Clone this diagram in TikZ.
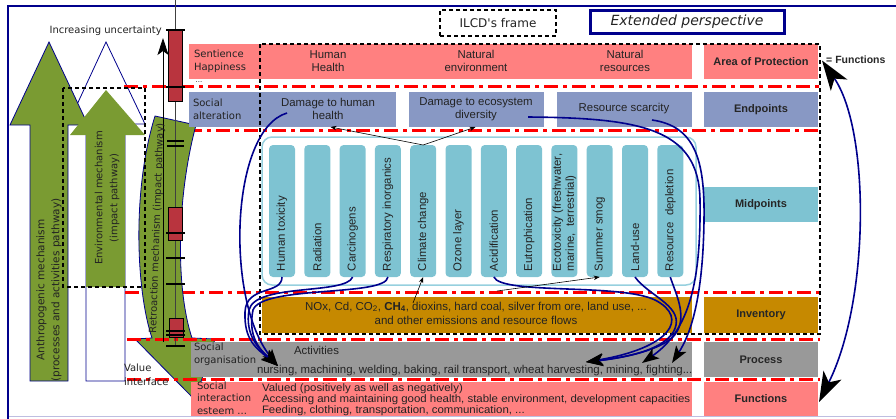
\documentclass[tikz,border=0pt]{standalone}
\usepackage{fontspec}
\setmainfont{Liberation Sans}
\newfontfamily\dv{DejaVu Sans}
\newfontfamily\widesans[FakeStretch=1.06]{Liberation Sans}
\usetikzlibrary{arrows.meta}
\definecolor{pinkc}{RGB}{255,128,128}
\definecolor{bluec}{RGB}{136,152,196}
\definecolor{tealc}{RGB}{126,195,210}
\definecolor{tealb}{RGB}{150,208,222}
\definecolor{goldc}{RGB}{198,137,0}
\definecolor{greyc}{RGB}{153,153,153}
\definecolor{greenc}{RGB}{122,155,50}
\definecolor{navyc}{RGB}{0,0,140}
\definecolor{barred}{RGB}{185,52,62}
\definecolor{txt}{RGB}{35,35,35}
\definecolor{lav}{RGB}{190,190,225}
\begin{document}
\begin{tikzpicture}[x=1pt,y=-1pt,
  rbox/.style={anchor=north west, inner sep=0pt, outer sep=0pt},
  tx/.style={inner sep=0pt, outer sep=0pt, align=center, text=txt, font=\fontsize{11.4}{13}\selectfont},
  dvt/.style={inner sep=0pt, outer sep=0pt, align=left, text=txt, font=\dv\fontsize{10}{13}\selectfont},
  lbl/.style={rbox, align=center, text=black!85, font=\bfseries\fontsize{11}{13}\selectfont},
  rdl/.style={red, line width=3pt, dash pattern=on 14pt off 5pt on 4pt off 5pt},
  nv/.style={navyc, line width=1.6pt},
  hd/.style={-{Stealth[length=17pt,width=12pt,inset=4pt,color=black]}},
  thinar/.style={black, line width=0.6pt, -{Stealth[length=6pt,width=4.5pt]}},
  capln/.style={black, line width=1.6pt},
  ilcd/.style={black, line width=1.8pt, dash pattern=on 4pt off 3pt},
  grarrow/.style={draw=navyc, line width=0.8pt, fill=greenc},
]
\useasboundingbox (0,0) rectangle (896,418);

% outer frame
\draw[lav, line width=1.2pt] (8,416.5) -- (900,416.5);
\draw[navyc, line width=2.5pt] (8,420) -- (8,6) -- (900,6);

% left arrows
\draw[draw=navyc, line width=0.8pt, fill=white] (86,381) -- (86,124) -- (68,124) -- (106,42) -- (145,124) -- (125,124) -- (125,381) -- cycle;
\draw[grarrow] (30,381) -- (30,125) -- (10,125) -- (49,42) -- (88,125) -- (68,125) -- (68,381) -- cycle;
\fill[greenc] (86,287) -- (86,135) -- (70,135) -- (106,90) -- (145,135) -- (125,135) -- (125,287) -- cycle;

% red lines under the retroaction arrow
\draw[rdl] (124,86) -- (820,86);
\draw[rdl] (188,130) -- (820,130);
\draw[rdl] (125,292) -- (820,292);

% retroaction arrow
\draw[grarrow] (155,116) -- (196,125) .. controls (176,200) and (176,290) .. (192,338) -- (215,339) -- (195,400) -- (135,339) -- (152,338) .. controls (136,290) and (132,190) .. (155,116) -- cycle;

% environmental dashed frame
\draw[ilcd] (63,88) rectangle (145,287);

% rows
\node[rbox, fill=pinkc, minimum width=71, minimum height=35] (sent) at (189,44) {};
\node[rbox, fill=pinkc, minimum width=433, minimum height=35] (aop) at (259,44) {};
\node[lbl, fill=pinkc, minimum width=114, minimum height=35] (aopL) at (704,44) {Area of Protection};

\node[rbox, fill=bluec, minimum width=71, minimum height=35] (salt) at (189,92) {};
\node[rbox, fill=bluec, minimum width=137, minimum height=35] (dhhb) at (259,92) {};
\node[rbox, fill=bluec, minimum width=135, minimum height=35] (dedb) at (409,92) {};
\node[rbox, fill=bluec, minimum width=135, minimum height=35] (rsb) at (557,92) {};
\node[lbl, fill=bluec, minimum width=114, minimum height=35] (endL) at (704,92) {Endpoints};

\node[rbox, draw=tealb, line width=1.5pt, rounded corners=10pt, minimum width=434, minimum height=148] (mpframe) at (262,137) {};
\foreach \i/\lab in {1/Human toxicity, 2/Radiation, 3/Carcinogens, 4/Respiratory inorganics, 5/Climate change, 6/Ozone layer, 7/Acidification, 8/Eutrophication, 9/{Ecotoxicity (freshwater,\\marine,\ \ terrestrial)}, 10/Summer smog, 11/Land-use, 12/{Resource\ \ depletion}} {
  \pgfmathsetmacro\cx{282+35.3*(\i-1)}
  \node[rbox, fill=tealc, rounded corners=4pt, minimum width=26, minimum height=132] (mp\i) at (\cx-13,145) {};
  \node[tx, rotate=90, anchor=west, align=left] (mt\i) at (\cx,271) {\lab};
}
\node[lbl, fill=tealc, minimum width=114, minimum height=35] (midL) at (704,187) {Midpoints};

\node[rbox, fill=goldc, minimum width=430, minimum height=36] (inv) at (262,297) {};
\node[lbl, fill=goldc, minimum width=114, minimum height=36] (invL) at (704,297) {Inventory};

\node[rbox, fill=greyc, minimum width=501, minimum height=35] (proc) at (191,342) {};
\node[lbl, fill=greyc, minimum width=114, minimum height=35] (procL) at (704,342) {Process};

\node[rbox, fill=pinkc, minimum width=501, minimum height=34] (fun) at (191,382) {};
\node[lbl, fill=pinkc, minimum width=114, minimum height=34] (funL) at (704,382) {Functions};

% red lines over the arrow
\draw[rdl] (127,339) -- (820,339);
\draw[rdl] (127,379) -- (820,379);

% uncertainty bar
\draw[black!75, line width=0.7pt] (175,0) -- (175,346);
\draw[black, line width=0.6pt, fill=barred] (168.5,30) rectangle (182.5,101);
\draw[capln] (166,30) -- (185,30);
\draw[capln] (166,87) -- (185,87);
\draw[capln] (167,141) -- (184,141);
\draw[capln] (167,146) -- (184,146);
\draw[black, line width=0.6pt, fill=barred] (168.5,207) rectangle (182.5,240);
\draw[capln] (166,233) -- (185,233);
\draw[capln] (166,258) -- (185,258);
\draw[capln] (166,284) -- (185,284);
\draw[black, line width=0.6pt, fill=barred] (169,318) rectangle (183,337);
\draw[capln] (166,331) -- (185,331);
\draw[capln] (166,335) -- (185,335);
\draw[capln] (166,346) -- (185,346);
\coordinate (ub) at (163,342);
\coordinate (ut) at (163,38);
\draw[black, line width=0.8pt, -{Stealth[length=17pt,width=11pt,inset=4pt]}] (ub) -- (ut);

% ILCD dashed frame
\draw[ilcd] (260,44) rectangle (820,334);

% texts
\node[dvt, anchor=west] (sentT) at (194,61) {Sentience\\Happiness};
\node[font=\dv\fontsize{7}{8}\selectfont, text=txt, inner sep=0pt] (dots) at (199,82) {...};
\node[tx] (hhT) at (328,61) {Human\\Health};
\node[tx] (neT) at (476,61) {Natural\\environment};
\node[tx] (nrT) at (625,61) {Natural\\resources};
\node[dvt, anchor=west] (saltT) at (193,109) {Social\\alteration};
\node[tx] (dhhT) at (328,109) {Damage to human\\health};
\node[tx] (dedT) at (476,109) {Damage to ecosystem\\diversity};
\node[tx] (rsT) at (624,109) {Resource scarcity};
\node[tx, font=\fontsize{11.5}{14}\selectfont] (invT) at (476,313) {NOx, Cd, CO\textsubscript{2}, \textbf{CH\textsubscript{4}}, dioxins, hard coal, silver from ore, land use, ...\\and other emissions and resource flows};
\node[dvt, anchor=west] (sorgT) at (194,354) {Social\\organisation};
\node[tx, anchor=west] (actT) at (294,350) {Activities};
\node[tx, anchor=base west] (nurT) at (257,373) {nursing, machining, welding, baking, rail transport, wheat harvesting, mining, fighting...};
\node[dvt, anchor=west, font=\dv\fontsize{10}{12.5}\selectfont] (sintT) at (197,398) {Social\\interaction\\esteem ...};
\node[tx, anchor=north west, align=left, font=\widesans\fontsize{10.8}{10}\selectfont] (funT) at (262,384) {Valued (positively as well as negatively)\\Accessing and maintaining good health, stable environment, development capacities\\Feeding, clothing, transportation, communication, ...};
\node[font=\bfseries\fontsize{10.5}{12}\selectfont, anchor=west, inner sep=0pt, text=black!85] (eqf) at (826,60) {= Functions};
\node[draw, ilcd, minimum width=116, minimum height=26, inner sep=0pt, font=\dv\fontsize{12}{14}\selectfont, text=txt] (ilcdT) at (498,23) {ILCD's frame};
\node[draw=navyc, line width=3pt, minimum width=194, minimum height=23, inner sep=0pt, font=\dv\itshape\fontsize{14}{16}\selectfont, text=txt] (extT) at (687,22) {Extended perspective};
\node[dvt, anchor=north west, font=\dv\fontsize{10}{14}\selectfont] (valT) at (124,364) {Value\\interface};
\node[font=\dv\fontsize{10}{12}\selectfont, anchor=east, inner sep=0pt, text=txt] (uncT) at (162,31) {Increasing uncertainty};
\node[dvt, align=center, rotate=90, font=\dv\fontsize{10.5}{15}\selectfont] (anthT) at (49,290) {Anthropogenic mechanism\\(processes and activities pathway)};
\node[dvt, align=center, rotate=90, font=\dv\fontsize{10}{15}\selectfont] (envT) at (107,198) {Environmental mechanism\\(impact pathway)};
\node[dvt, rotate=88, font=\dv\fontsize{10}{12}\selectfont] (retT) at (157,228) {Retroaction mechanism (impact pathway)};

% connector coordinates
\coordinate (dhhs) at (287,113);
\coordinate (deds) at (528,117);
\coordinate (rss) at (652,120);
\coordinate (p1) at (278,366);
\coordinate (p2) at (586,362);
\coordinate (p3) at (642,363);
\coordinate (p4) at (672,363);
\coordinate (ch4) at (413,303);
\coordinate (acs) at (497,291);

% navy curves
\draw[nv, hd] (dhhs) .. controls (230,130) and (225,300) .. (p1);
\draw[nv, hd] (mp1.south) .. controls (282,295) and (246,285) .. (245,312) .. controls (244,340) and (256,348) .. (p1);
\draw[nv, hd] (mp3.south) .. controls (346,295) and (255,283) .. (249,310) .. controls (245,335) and (258,348) .. (p1);
\draw[nv, hd] (mp4.south) .. controls (386,297) and (262,285) .. (253,310) .. controls (248,335) and (258,348) .. (p1);
\draw[nv, hd] (mp7.south) .. controls (502,295) and (620,283) .. (655,300) .. controls (690,318) and (670,348) .. (p2);
\draw[nv, hd] (mp11.south) .. controls (648,295) and (680,305) .. (676,325) .. controls (672,345) and (640,356) .. (p2);
\draw[nv, hd] (mp12.south) .. controls (676,295) and (690,320) .. (672,338) .. controls (655,352) and (620,358) .. (p2);
\draw[nv, hd] (deds) .. controls (640,118) and (699,128) .. (700,200) .. controls (701,280) and (690,330) .. (p3);
\draw[nv, hd] (rss) .. controls (695,126) and (705,160) .. (704,220) .. controls (703,300) and (690,335) .. (p4);

% right double arrow
\draw[nv, {Stealth[length=30pt,width=20pt,inset=8pt,color=black]}-{Stealth[length=30pt,width=20pt,inset=8pt,color=black]}] ([xshift=4pt,yshift=1pt]aopL.east) .. controls (870,130) and (870,300) .. ([xshift=1pt,yshift=-3pt]funL.east);

% thin black arrows
\draw[thinar] (mp5.north) -- ([xshift=3pt]dhhb.south);
\draw[thinar] (mp5.north) -- ([xshift=-1pt]dedb.south);
\draw[thinar] (ch4) -- (mp5.south);
\draw[thinar] (acs) -- (mp10.south);
\end{tikzpicture}
\end{document}
